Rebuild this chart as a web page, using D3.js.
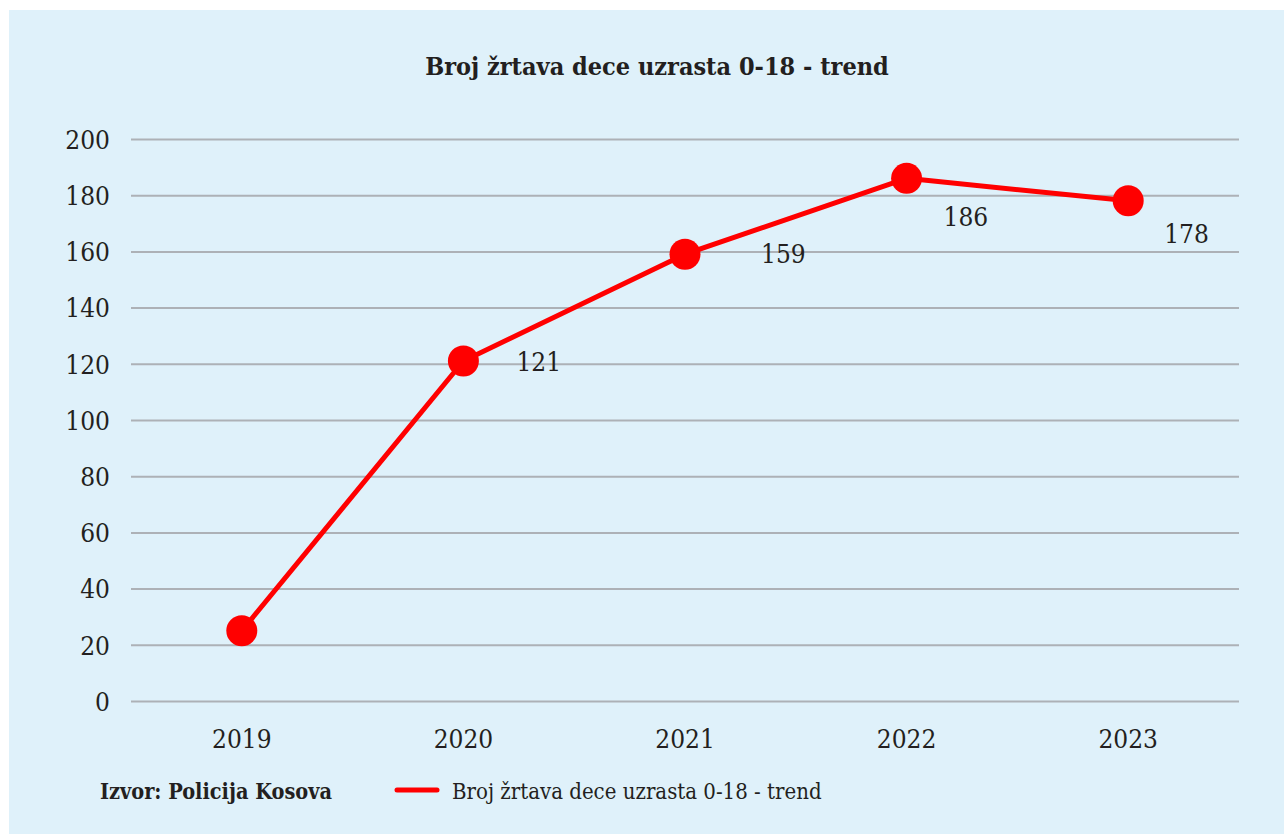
<!DOCTYPE html>
<html>
<head>
<meta charset="utf-8">
<script src="https://cdn.jsdelivr.net/npm/d3@7"></script>
<style>
  html, body { margin: 0; padding: 0; background: #ffffff; }
  svg { display: block; }
</style>
</head>
<body>
<div id="chart"></div>
<script>
// Data
const years = ["2019", "2020", "2021", "2022", "2023"];
const victims = [25, 121, 159, 186, 178];
const showLabel = [false, true, true, true, true];
const yTicks = [0, 20, 40, 60, 80, 100, 120, 140, 160, 180, 200];

const titleText = "Broj žrtava dece uzrasta 0-18 - trend";
const sourceText = "Izvor: Policija Kosova";
const legendText = "Broj žrtava dece uzrasta 0-18 - trend";

// Chart dimensions
const width = 1284, height = 834;
const margin = { top: 139, right: 45, bottom: 133, left: 131 };
const serif = "'DejaVu Serif Condensed', 'DejaVu Serif', serif";
const textColor = "#231f20";

const svg = d3.select("#chart").append("svg")
    .attr("width", width)
    .attr("height", height)
    .attr("viewBox", [0, 0, width, height]);

// Light blue panel
svg.append("rect")
    .attr("x", 9)
    .attr("y", 10)
    .attr("width", width - 9)
    .attr("height", height - 10)
    .attr("fill", "#dff1fa");

// Scales
const x = d3.scaleBand()
    .domain(years)
    .range([margin.left, width - margin.right]);

const y = d3.scaleLinear()
    .domain([0, 200])
    .range([height - margin.bottom, margin.top]);

const cx = d => x(d) + x.bandwidth() / 2;

// Title
svg.append("text")
    .attr("x", 657)
    .attr("y", 75)
    .attr("text-anchor", "middle")
    .attr("font-family", serif)
    .attr("font-stretch", "condensed")
    .attr("font-weight", "bold")
    .attr("font-size", 25)
    .attr("fill", textColor)
    .text(titleText);

// Horizontal gridlines + y labels
const yAxis = svg.append("g")
    .attr("transform", `translate(${margin.left},0)`)
    .call(d3.axisLeft(y)
        .tickValues(yTicks)
        .tickSize(-(width - margin.left - margin.right))
        .tickPadding(21));

yAxis.select(".domain").remove();
yAxis.selectAll(".tick line")
    .attr("stroke", "#adb1b6")
    .attr("stroke-width", 2);
yAxis.selectAll(".tick text")
    .attr("font-family", serif)
    .attr("font-stretch", "condensed")
    .attr("font-size", 26)
    .attr("fill", textColor)
    .attr("dy", "0.36em");

// Category labels
const xAxis = svg.append("g")
    .attr("transform", `translate(0,${height - margin.bottom})`)
    .call(d3.axisBottom(x).tickSize(0).tickPadding(29));

xAxis.select(".domain").remove();
xAxis.selectAll(".tick text")
    .attr("font-family", serif)
    .attr("font-stretch", "condensed")
    .attr("font-size", 26)
    .attr("fill", textColor);

// Line
const line = d3.line()
    .x((d, i) => cx(years[i]))
    .y(d => y(d));

svg.append("path")
    .datum(victims)
    .attr("fill", "none")
    .attr("stroke", "#ff0000")
    .attr("stroke-width", 5)
    .attr("stroke-linejoin", "round")
    .attr("d", line);

// Markers
svg.append("g")
    .selectAll("circle")
    .data(victims)
    .join("circle")
    .attr("cx", (d, i) => cx(years[i]))
    .attr("cy", d => y(d))
    .attr("r", 15.5)
    .attr("fill", "#ff0000");

// Data labels (Excel placed them by hand, so nudge each one)
const labelShift = [[0, 0], [53, 1], [76, -1], [37, 38], [36, 33]];

svg.append("g")
    .selectAll("text")
    .data(victims.map((v, i) => ({ v, i })))
    .join("text")
    .filter(d => showLabel[d.i])
    .attr("x", d => cx(years[d.i]) + labelShift[d.i][0])
    .attr("y", d => y(d.v) + labelShift[d.i][1])
    .attr("dy", "0.36em")
    .attr("font-family", serif)
    .attr("font-stretch", "condensed")
    .attr("font-size", 26)
    .attr("fill", textColor)
    .text(d => d.v);

// Source note
svg.append("text")
    .attr("x", 100)
    .attr("y", 799)
    .attr("font-family", serif)
    .attr("font-stretch", "condensed")
    .attr("font-weight", "bold")
    .attr("font-size", 21.5)
    .attr("fill", textColor)
    .text(sourceText);

// Legend
svg.append("line")
    .attr("x1", 397)
    .attr("x2", 437)
    .attr("y1", 790)
    .attr("y2", 790)
    .attr("stroke", "#ff0000")
    .attr("stroke-width", 5)
    .attr("stroke-linecap", "round");

svg.append("text")
    .attr("x", 452)
    .attr("y", 799)
    .attr("font-family", serif)
    .attr("font-stretch", "condensed")
    .attr("font-size", 22)
    .attr("fill", textColor)
    .text(legendText);
</script>
</body>
</html>
